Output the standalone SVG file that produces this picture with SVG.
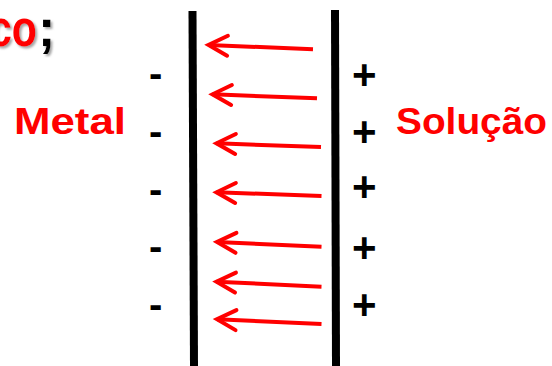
<svg xmlns="http://www.w3.org/2000/svg" width="552" height="366" viewBox="0 0 552 366">
<style>
.lbl{font-family:"Liberation Sans",Arial,sans-serif;font-weight:bold;fill:#FF0000}
.sign{font-family:"Liberation Sans",Arial,sans-serif;font-weight:bold;fill:#000}
.bar{stroke:#000;stroke-width:8;fill:none}
.arr{stroke:#FF0000;stroke-width:4;fill:none;marker-end:url(#chev)}
.ttl{font-family:"Liberation Sans",Arial,sans-serif;font-weight:bold;font-size:52px}
</style>
<defs>
<marker id="chev" markerUnits="userSpaceOnUse" viewBox="-24 -14 28 28" refX="0" refY="0" markerWidth="28" markerHeight="28" orient="auto" overflow="visible">
<path d="M-19,-10 L0,0 L-19,10" fill="none" stroke="#FF0000" stroke-width="4" stroke-linejoin="miter" stroke-linecap="round"/>
</marker>
<filter id="sh" x="-20%" y="-20%" width="140%" height="140%">
<feDropShadow dx="2" dy="2" stdDeviation="1" flood-color="#808080" flood-opacity="0.7"/>
</filter>
</defs>
<rect width="552" height="366" fill="#fff"/>
<g id="title" filter="url(#sh)">
<text class="ttl" x="-11" y="46" fill="#FF0000" textLength="48" lengthAdjust="spacingAndGlyphs">co</text>
<text class="ttl" x="38" y="46" fill="#000">;</text>
</g>
<g id="metal-plate"><line class="bar" x1="192.5" y1="11" x2="194" y2="366"/></g>
<g id="solution-plate"><line class="bar" x1="335" y1="10" x2="336" y2="366"/></g>
<g id="metal"><text class="lbl" x="14" y="134" font-size="37" textLength="112" lengthAdjust="spacingAndGlyphs">Metal</text></g>
<g id="solucao"><text class="lbl" x="396" y="134" font-size="37" textLength="151" lengthAdjust="spacingAndGlyphs">Solução</text></g>
<g id="minus-charges" class="sign" font-size="40">
<text x="149" y="87">-</text>
<text x="149" y="145">-</text>
<text x="149" y="203">-</text>
<text x="149" y="260">-</text>
<text x="149" y="318">-</text>
</g>
<g id="plus-charges" class="sign" font-size="42">
<text x="352" y="89">+</text>
<text x="352" y="146">+</text>
<text x="352" y="201">+</text>
<text x="352" y="262">+</text>
<text x="352" y="319">+</text>
</g>
<g id="connectors">
<line class="arr" x1="313" y1="49.3" x2="208.5" y2="45"/>
<line class="arr" x1="317" y1="98.3" x2="212.5" y2="94.3"/>
<line class="arr" x1="321" y1="147" x2="216.5" y2="143.3"/>
<line class="arr" x1="321.5" y1="196" x2="216.5" y2="192.3"/>
<line class="arr" x1="321.5" y1="246.7" x2="217" y2="242"/>
<line class="arr" x1="321.5" y1="286.7" x2="216.5" y2="281.7"/>
<line class="arr" x1="321.5" y1="324" x2="217" y2="319.3"/>
</g>
</svg>
